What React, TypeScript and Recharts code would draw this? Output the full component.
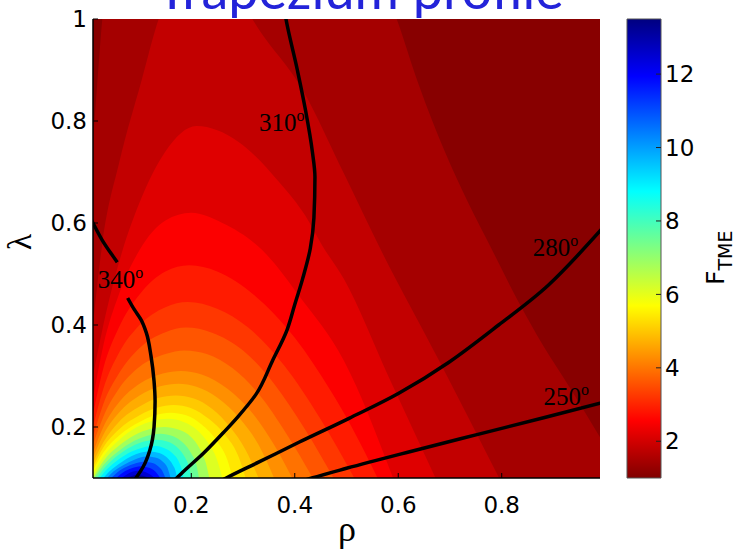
import React from 'react'
import {
    ComposedChart,
    BarChart,
    Area,
    Line,
    Scatter,
    Bar,
    XAxis,
    YAxis,
} from 'recharts'

type Pt = [number, number] // [rho, lambda]

const RHO_TICKS = [0.2, 0.4, 0.6, 0.8]
const LAMBDA_TICKS = [0.2, 0.4, 0.6, 0.8, 1]
const F_TICKS = [2, 4, 6, 8, 10, 12]
const F_MIN = 1
const F_MAX = 13.5

// upper edge of the region where F_TME is above each contour level
const F_1_36: Pt[] = [[0.01, 0.76], [0.018, 0.87], [0.028, 1.0], [0.05, 1.15], [0.15, 1.35], [0.3, 1.4], [0.45, 1.3], [0.55, 1.12], [0.597, 1.0], [0.64, 0.87], [0.69, 0.74], [0.735, 0.64], [0.78, 0.55], [0.83, 0.45], [0.88, 0.36], [0.93, 0.28], [0.99, 0.18]]
const F_1_71: Pt[] = [[0.01, 0.4], [0.028, 0.56], [0.061, 0.72], [0.104, 0.88], [0.137, 1.0], [0.18, 1.09], [0.23, 1.11], [0.28, 1.07], [0.318, 1.0], [0.418, 0.856], [0.495, 0.697], [0.567, 0.546], [0.678, 0.332], [0.795, 0.1]]
const F_2_07: Pt[] = [[0.01, 0.3], [0.03, 0.4], [0.067, 0.546], [0.1, 0.64], [0.15, 0.74], [0.21, 0.79], [0.29, 0.76], [0.37, 0.68], [0.42, 0.615], [0.453, 0.556], [0.495, 0.49], [0.582, 0.297], [0.672, 0.1]]
const F_2_43: Pt[] = [[0.01, 0.255], [0.03, 0.36], [0.06, 0.46], [0.1, 0.547], [0.15, 0.605], [0.2, 0.62], [0.26, 0.6], [0.337, 0.547], [0.41, 0.455], [0.495, 0.33], [0.59, 0.1]]
const F_2_79: Pt[] = [[0.01, 0.225], [0.03, 0.315], [0.06, 0.395], [0.1, 0.46], [0.15, 0.505], [0.196, 0.517], [0.25, 0.505], [0.32, 0.46], [0.4, 0.375], [0.47, 0.27], [0.51, 0.2], [0.56, 0.1]]
const F_3_14: Pt[] = [[0.01, 0.2], [0.03, 0.275], [0.06, 0.345], [0.1, 0.4], [0.15, 0.435], [0.193, 0.445], [0.25, 0.432], [0.31, 0.395], [0.38, 0.32], [0.45, 0.215], [0.515, 0.1]]
const F_3_50: Pt[] = [[0.01, 0.18], [0.03, 0.245], [0.06, 0.305], [0.1, 0.355], [0.15, 0.386], [0.19, 0.395], [0.24, 0.385], [0.3, 0.35], [0.36, 0.285], [0.42, 0.195], [0.475, 0.1]]
const F_3_86: Pt[] = [[0.01, 0.165], [0.03, 0.22], [0.06, 0.275], [0.1, 0.318], [0.15, 0.343], [0.187, 0.35], [0.23, 0.343], [0.28, 0.315], [0.33, 0.265], [0.385, 0.185], [0.435, 0.1]]
const F_4_21: Pt[] = [[0.01, 0.15], [0.03, 0.2], [0.06, 0.248], [0.1, 0.285], [0.145, 0.305], [0.18, 0.31], [0.22, 0.303], [0.27, 0.275], [0.32, 0.225], [0.36, 0.165], [0.395, 0.1]]
const F_4_57: Pt[] = [[0.01, 0.14], [0.03, 0.185], [0.06, 0.228], [0.1, 0.262], [0.14, 0.28], [0.175, 0.285], [0.21, 0.279], [0.25, 0.258], [0.295, 0.215], [0.33, 0.165], [0.36, 0.1]]
const F_4_93: Pt[] = [[0.01, 0.13], [0.03, 0.17], [0.06, 0.21], [0.1, 0.24], [0.135, 0.257], [0.17, 0.262], [0.205, 0.256], [0.24, 0.236], [0.275, 0.2], [0.305, 0.155], [0.33, 0.1]]
const F_5_29: Pt[] = [[0.01, 0.122], [0.03, 0.16], [0.06, 0.195], [0.1, 0.223], [0.135, 0.238], [0.165, 0.243], [0.2, 0.237], [0.235, 0.215], [0.265, 0.185], [0.29, 0.145], [0.305, 0.1]]
const F_5_64: Pt[] = [[0.01, 0.115], [0.03, 0.15], [0.06, 0.183], [0.1, 0.21], [0.13, 0.223], [0.16, 0.228], [0.19, 0.223], [0.22, 0.205], [0.25, 0.172], [0.27, 0.135], [0.28, 0.1]]
const F_6_00: Pt[] = [[0.01, 0.108], [0.03, 0.142], [0.06, 0.174], [0.095, 0.2], [0.125, 0.212], [0.155, 0.216], [0.185, 0.21], [0.21, 0.195], [0.235, 0.165], [0.25, 0.135], [0.26, 0.1]]
const F_6_71: Pt[] = [[0.01, 0.1], [0.03, 0.133], [0.06, 0.163], [0.09, 0.184], [0.12, 0.196], [0.148, 0.2], [0.175, 0.195], [0.2, 0.18], [0.215, 0.16], [0.228, 0.13], [0.235, 0.1]]
const F_7_43: Pt[] = [[0.013, 0.1], [0.03, 0.125], [0.06, 0.153], [0.09, 0.173], [0.115, 0.183], [0.14, 0.187], [0.165, 0.182], [0.185, 0.168], [0.2, 0.148], [0.21, 0.125], [0.215, 0.1]]
const F_8_14: Pt[] = [[0.018, 0.1], [0.03, 0.117], [0.055, 0.142], [0.085, 0.162], [0.11, 0.172], [0.133, 0.175], [0.155, 0.171], [0.175, 0.158], [0.188, 0.14], [0.196, 0.12], [0.2, 0.1]]
const F_8_86: Pt[] = [[0.023, 0.1], [0.035, 0.115], [0.06, 0.137], [0.085, 0.152], [0.107, 0.16], [0.127, 0.163], [0.147, 0.159], [0.164, 0.148], [0.176, 0.132], [0.182, 0.115], [0.185, 0.1]]
const F_9_57: Pt[] = [[0.03, 0.1], [0.042, 0.113], [0.065, 0.131], [0.085, 0.143], [0.103, 0.15], [0.12, 0.152], [0.138, 0.149], [0.153, 0.14], [0.164, 0.126], [0.17, 0.112], [0.172, 0.1]]
const F_10_29: Pt[] = [[0.037, 0.1], [0.05, 0.113], [0.07, 0.126], [0.09, 0.136], [0.113, 0.142], [0.13, 0.14], [0.145, 0.132], [0.154, 0.12], [0.16, 0.1]]
const F_11_00: Pt[] = [[0.045, 0.1], [0.058, 0.112], [0.075, 0.122], [0.09, 0.128], [0.107, 0.132], [0.123, 0.13], [0.137, 0.122], [0.145, 0.112], [0.15, 0.1]]
const F_11_71: Pt[] = [[0.055, 0.1], [0.068, 0.111], [0.085, 0.119], [0.102, 0.123], [0.118, 0.12], [0.13, 0.113], [0.14, 0.1]]
const F_12_43: Pt[] = [[0.065, 0.1], [0.077, 0.108], [0.098, 0.114], [0.115, 0.11], [0.13, 0.1]]
const F_13_14: Pt[] = [[0.075, 0.1], [0.085, 0.104], [0.095, 0.106], [0.108, 0.104], [0.12, 0.1]]

const LEVELS = [1.36, 1.71, 2.07, 2.43, 2.79, 3.14, 3.5, 3.86, 4.21, 4.57, 4.93, 5.29, 5.64, 6.0, 6.71, 7.43, 8.14, 8.86, 9.57, 10.29, 11.0, 11.71, 12.43, 13.14]
const LEVEL_EDGES = [F_1_36, F_1_71, F_2_07, F_2_43, F_2_79, F_3_14, F_3_50, F_3_86, F_4_21, F_4_57, F_4_93, F_5_29, F_5_64, F_6_00, F_6_71, F_7_43, F_8_14, F_8_86, F_9_57, F_10_29, F_11_00, F_11_71, F_12_43, F_13_14]
const FULL_FRAME: Pt[] = [[0.01, 1], [0.99, 1]]

// black angle contours; 340 and 310 run top to bottom, 280 and 250 left to right
const PHI_340_TOP: Pt[] = [[0.005, 0.61], [0.01, 0.6], [0.028, 0.566], [0.045, 0.54], [0.057, 0.523]]
const PHI_340: Pt[] = [[0.077, 0.453], [0.09, 0.43], [0.103, 0.41], [0.113, 0.385], [0.122, 0.34], [0.128, 0.29], [0.13, 0.25], [0.128, 0.2], [0.12, 0.155], [0.107, 0.122], [0.093, 0.1], [0.088, 0.093]]
const PHI_310: Pt[] = [[0.378, 1.03], [0.383, 1.0], [0.405, 0.9], [0.421, 0.82], [0.434, 0.74], [0.439, 0.69], [0.437, 0.61], [0.43, 0.55], [0.415, 0.49], [0.4, 0.44], [0.385, 0.39], [0.357, 0.33], [0.325, 0.264], [0.29, 0.22], [0.263, 0.19], [0.225, 0.15], [0.18, 0.108], [0.172, 0.1], [0.166, 0.094]]
const PHI_280: Pt[] = [[0.26, 0.096], [0.2675, 0.1], [0.33, 0.131], [0.408, 0.17], [0.505, 0.217], [0.601, 0.266], [0.698, 0.327], [0.794, 0.4], [0.89, 0.478], [0.995, 0.59]]
const PHI_250: Pt[] = [[0.42, 0.096], [0.433, 0.1], [0.5, 0.119], [0.624, 0.152], [0.752, 0.185], [0.881, 0.218], [0.995, 0.248]]
const VERTICAL_LINES = [PHI_340_TOP, PHI_340, PHI_310]
const SLANTED_LINES = [PHI_280, PHI_250]

const LABEL_RHO = [0.019, 0.331, 0.86, 0.881]
const LABEL_LAMBDA = [0.473, 0.781, 0.535, 0.244]
const LABEL_TEXT = ['340', '310', '280', '250']

const COLORBAR = [{ name: 'F', span: [F_MIN, F_MAX] }]
const JET_KNOTS = [13.5, 11.94, 10.375, 8.81, 7.25, 5.69, 4.125, 2.56, 1]

const rows = (pts: Pt[]) => pts.map(([rho, lam]) => ({ rho, lam }))

// reversed jet colormap over the F_TME range
function jet(v: number) {
    const t = (F_MAX - v) / (F_MAX - F_MIN)
    const c = (x: number) => Math.round(255 * Math.min(1, Math.max(0, x)))
    const r = c(1.5 - Math.abs(4 * t - 3))
    const g = c(1.5 - Math.abs(4 * t - 2))
    const b = c(1.5 - Math.abs(4 * t - 1))
    return `rgb(${r},${g},${b})`
}

const tickFont = { fontFamily: 'DejaVu Sans', fontSize: 23, fill: '#000' }

function ContourLabel(props: any) {
    const { cx, cy, payload } = props
    return (
        <text x={cx} y={cy} fontFamily="Liberation Serif" fontSize={25} fill="#000">
            {payload.text}
            <tspan dy={-10} fontSize={16}>
                o
            </tspan>
        </text>
    )
}

export default function App() {
    const labels = LABEL_TEXT.map((text, i) => ({ rho: LABEL_RHO[i], lam: LABEL_LAMBDA[i], text }))

    return (
        <div style={{ position: 'absolute', left: 0, top: 0, width: 750, height: 550, background: '#fff' }}>
            <div style={{ position: 'absolute', left: 0, top: 0 }}>
                <ComposedChart width={750} height={550} margin={{ top: 19, right: 150, bottom: 0, left: 0 }}>
                    <Area
                        data={rows(FULL_FRAME)}
                        dataKey="lam"
                        type="linear"
                        fill={jet(1.1)}
                        fillOpacity={1}
                        stroke="none"
                        dot={false}
                        activeDot={false}
                        isAnimationActive={false}
                    />
                    {LEVEL_EDGES.map((edge, i) => (
                        <Area
                            key={LEVELS[i]}
                            data={rows(edge)}
                            dataKey="lam"
                            type="monotone"
                            fill={jet(LEVELS[i] + 0.1)}
                            fillOpacity={1}
                            stroke="none"
                            dot={false}
                            activeDot={false}
                            isAnimationActive={false}
                        />
                    ))}
                    {VERTICAL_LINES.map((pts, i) => (
                        <Line
                            key={'v' + i}
                            data={rows(pts)}
                            dataKey="lam"
                            type="monotoneY"
                            stroke="#000"
                            strokeWidth={3.5}
                            dot={false}
                            activeDot={false}
                            isAnimationActive={false}
                        />
                    ))}
                    {SLANTED_LINES.map((pts, i) => (
                        <Line
                            key={'s' + i}
                            data={rows(pts)}
                            dataKey="lam"
                            type="monotone"
                            stroke="#000"
                            strokeWidth={3.5}
                            dot={false}
                            activeDot={false}
                            isAnimationActive={false}
                        />
                    ))}
                    <Scatter data={labels} dataKey="lam" shape={ContourLabel} isAnimationActive={false} />

                    <XAxis
                        type="number"
                        dataKey="rho"
                        domain={[0.01, 0.99]}
                        allowDataOverflow
                        ticks={RHO_TICKS}
                        height={72}
                        tickSize={-5}
                        tickMargin={24}
                        tick={tickFont}
                        axisLine={{ stroke: '#000', strokeWidth: 1.5 }}
                        tickLine={{ stroke: '#000' }}
                    />
                    <XAxis
                        xAxisId="top"
                        orientation="top"
                        type="number"
                        dataKey="rho"
                        domain={[0.01, 0.99]}
                        allowDataOverflow
                        ticks={RHO_TICKS}
                        height={0}
                        tickSize={-5}
                        tick={false}
                        axisLine={{ stroke: '#777' }}
                        tickLine={{ stroke: '#000' }}
                    />
                    <YAxis
                        type="number"
                        domain={[0.1, 1]}
                        allowDataOverflow
                        ticks={LAMBDA_TICKS}
                        width={93}
                        tickSize={-5}
                        tickMargin={11}
                        tick={tickFont}
                        axisLine={{ stroke: '#000', strokeWidth: 1.5 }}
                        tickLine={{ stroke: '#000' }}
                    />
                    <YAxis
                        yAxisId="right"
                        orientation="right"
                        type="number"
                        domain={[0.1, 1]}
                        allowDataOverflow
                        ticks={LAMBDA_TICKS}
                        width={0}
                        tickSize={-5}
                        tick={false}
                        axisLine={{ stroke: '#333' }}
                        tickLine={{ stroke: '#000' }}
                    />
                </ComposedChart>
            </div>

            <div style={{ position: 'absolute', left: 0, top: 0 }}>
                <BarChart
                    width={750}
                    height={550}
                    data={COLORBAR}
                    margin={{ top: 19, right: 0, bottom: 72, left: 627 }}
                    barCategoryGap={0}
                >
                    <defs>
                        <linearGradient id="jetScale" x1="0" y1="0" x2="0" y2="1">
                            {JET_KNOTS.map((v) => (
                                <stop key={v} offset={(F_MAX - v) / (F_MAX - F_MIN)} stopColor={jet(v)} />
                            ))}
                        </linearGradient>
                    </defs>
                    <Bar dataKey="span" fill="url(#jetScale)" stroke="#555" isAnimationActive={false} />
                    <XAxis dataKey="name" hide />
                    <YAxis
                        yAxisId="left"
                        orientation="left"
                        type="number"
                        domain={[F_MIN, F_MAX]}
                        ticks={F_TICKS}
                        width={0}
                        tickSize={-5}
                        tick={false}
                        axisLine={false}
                        tickLine={{ stroke: '#222' }}
                    />
                    <YAxis
                        orientation="right"
                        type="number"
                        domain={[F_MIN, F_MAX]}
                        ticks={F_TICKS}
                        width={89}
                        tickSize={-5}
                        tickMargin={9}
                        tick={tickFont}
                        axisLine={false}
                        tickLine={{ stroke: '#222' }}
                    />
                </BarChart>
            </div>

            <svg width={750} height={550} style={{ position: 'absolute', left: 0, top: 0, pointerEvents: 'none' }}>
                <text x={360} y={9} textAnchor="middle" fontFamily="Lato" fontSize={54} fill="#2323d9">
                    Trapezium profile
                </text>
                <text x={347} y={541} textAnchor="middle" fontFamily="Liberation Serif" fontSize={36} fill="#000">
                    ρ
                </text>
                <text
                    x={19}
                    y={242}
                    textAnchor="middle"
                    dominantBaseline="central"
                    fontFamily="Liberation Serif"
                    fontSize={34}
                    fill="#000"
                    transform="rotate(-90 19 242)"
                >
                    λ
                </text>
                <text x={724} y={285} fontFamily="DejaVu Sans" fontSize={25} fill="#000" transform="rotate(-90 724 285)">
                    F
                    <tspan dy={8} fontSize={19}>
                        TME
                    </tspan>
                </text>
            </svg>
        </div>
    )
}
